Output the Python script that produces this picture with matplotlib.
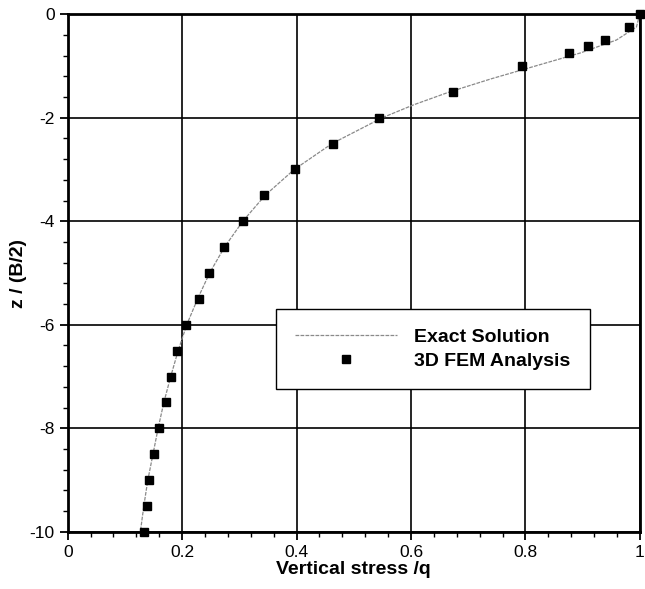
import matplotlib
matplotlib.use("Agg")
import matplotlib.pyplot as plt
from matplotlib.ticker import MultipleLocator, FuncFormatter

plt.rcParams['font.family'] = ['Liberation Sans', 'DejaVu Sans']

# Exact solution
exact_depth = [0.0, -0.25, -0.5, -0.75, -1.0, -1.25, -1.5, -1.75, -2.0, -2.5, -3.0, -3.5,
               -4.0, -4.5, -5.0, -5.5, -6.0, -6.5, -7.0, -7.5, -8.0, -8.5, -9.0, -9.5, -10.0]
exact_stress = [1.0, 0.994, 0.959, 0.896, 0.818, 0.740, 0.668, 0.605, 0.550, 0.462, 0.396, 0.345,
                0.306, 0.274, 0.248, 0.227, 0.208, 0.193, 0.180, 0.168, 0.158, 0.149, 0.140, 0.133, 0.127]

# 3D FEM analysis points
fem_depth = [0.0, -0.25, -0.5, -0.625, -0.75, -1.0, -1.5, -2.0, -2.5, -3.0, -3.5, -4.0, -4.5,
             -5.0, -5.5, -6.0, -6.5, -7.0, -7.5, -8.0, -8.5, -9.0, -9.5, -10.0]
fem_stress = [1.0, 0.981, 0.939, 0.909, 0.876, 0.794, 0.673, 0.544, 0.463, 0.397, 0.343, 0.306, 0.273,
              0.247, 0.229, 0.206, 0.191, 0.181, 0.171, 0.160, 0.150, 0.142, 0.138, 0.133]

fig = plt.figure(figsize=(6.45, 5.89), dpi=100)
ax = fig.add_axes([0.105, 0.097, 0.887, 0.879])

ax.plot(exact_stress, exact_depth, color='#8a8a8a', lw=0.9, ls=(0, (3, 1)), label='Exact Solution', zorder=3)
ax.plot(fem_stress, fem_depth, ls='none', marker='s', ms=6, color='black',
        label='3D FEM Analysis', zorder=4, clip_on=False)

ax.set_xlim(0, 1)
ax.set_ylim(-10, 0)
ax.xaxis.set_major_locator(MultipleLocator(0.2))
ax.xaxis.set_minor_locator(MultipleLocator(0.04))
ax.yaxis.set_major_locator(MultipleLocator(2))
ax.yaxis.set_minor_locator(MultipleLocator(0.4))
ax.xaxis.set_major_formatter(FuncFormatter(lambda v, p: f"{v:g}"))
ax.yaxis.set_major_formatter(FuncFormatter(lambda v, p: f"{v:g}"))

ax.grid(True, which='major', color='black', lw=1.2)
for s in ax.spines.values():
    s.set_linewidth(2.0)
ax.tick_params(which='major', direction='out', length=6, width=1.3, labelsize=12.5)
ax.tick_params(which='minor', direction='out', length=3.5, width=1.0)

ax.set_xlabel('Vertical stress /q', fontsize=14, fontweight='bold', labelpad=1)
ax.set_ylabel('z / (B/2)', fontsize=14, fontweight='bold', labelpad=2)

leg = ax.legend(loc='upper left', bbox_to_anchor=(0.364, 0.43), fancybox=False,
                edgecolor='black', framealpha=1, borderpad=1.0, handlelength=5.2,
                prop={'weight': 'bold', 'size': 14}, labelspacing=0.3, handletextpad=0.9,
                borderaxespad=0)
leg.get_frame().set_linewidth(1.0)
leg.set_zorder(5)

fig.savefig('out.png', dpi=100)
